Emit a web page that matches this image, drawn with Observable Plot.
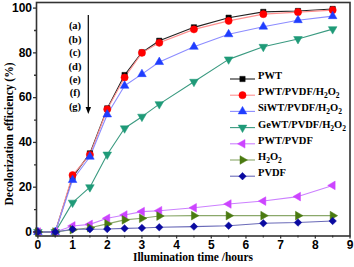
<!DOCTYPE html>
<html><head><meta charset="utf-8">
<script src="https://cdn.jsdelivr.net/npm/d3@7"></script>
<script src="https://cdn.jsdelivr.net/npm/@observablehq/plot@0.6"></script>
<style>body{margin:0;background:#fff}</style>
</head><body><div id="chart"></div>
<script>
// ---- data ----
const hours = [0, 0.5, 1, 1.5, 2, 2.5, 3, 3.5, 4.5, 5.5, 6.5, 7.5, 8.5];
const seriesNames = ["PWT", "PWT/PVDF/H2O2", "SiWT/PVDF/H2O2", "GeWT/PVDF/H2O2", "PWT/PVDF", "H2O2", "PVDF"];
const pwt        = [0, 0, 24.5, 35.1, 55.2, 70.1, 80.2, 85.4, 91.4, 95.7, 98.3, 98.7, 99.6];
const pwtPvdfH2o2 = [0, 0, 25.4, 34.5, 54.8, 69.0, 80.0, 84.5, 90.5, 94.3, 97.3, 98.2, 99.1];
const siwtPvdfH2o2 = [0, 0, 23.2, 33.6, 52.5, 65.3, 70.5, 75.9, 82.7, 88.3, 91.7, 94.6, 96.4];
const gewtPvdfH2o2 = [0, 0, 13.1, 20.0, 34.6, 46.3, 51.5, 57.1, 67.1, 77.1, 82.7, 86.2, 90.6];
const pwtPvdf    = [0, 0, 2.7, 3.4, 6.1, 7.6, 9.1, 9.5, 10.8, 12.5, 13.8, 15.8, 20.8];
const h2o2       = [0, 0, 1.0, 1.9, 3.6, 5.4, 6.1, 7.1, 7.3, 7.3, 7.3, 7.3, 7.3];
const pvdf       = [0, 0, 1.2, 1.2, 1.3, 1.6, 1.8, 2.1, 2.4, 2.8, 3.9, 4.2, 4.9];
const seriesValues = [pwt, pwtPvdfH2o2, siwtPvdfH2o2, gewtPvdfH2o2, pwtPvdf, h2o2, pvdf];
const annotationLabels = ["(a)", "(b)", "(c)", "(d)", "(e)", "(f)", "(g)"];
const yTicks = [0, 20, 40, 60, 80, 100];
const yMinorTicks = [10, 30, 50, 70, 90];
const xTicks = [0, 1, 2, 3, 4, 5, 6, 7, 8, 9];
const xMinorTicks = [0.5, 1.5, 2.5, 3.5, 4.5, 5.5, 6.5, 7.5, 8.5];
const xTitle = "Illumination time /hours";
const yTitle = "Decolorization efficiency (%)";

// ---- styles ----
const lineColors   = ["#222222", "#ff8f8f", "#8c8cff", "#3a9a80", "#cc80ff", "#8aa86a", "#6a6ab8"];
const markerColors = ["#000000", "#ff0000", "#1f3dff", "#1f9a78", "#cc44ff", "#4a7a10", "#0a0aa0"];

function triangle(angleDeg) {
  const t = angleDeg * Math.PI / 180;
  return {
    draw(ctx, size) {
      const s = Math.sqrt(size * 4 / Math.sqrt(3));
      const h = s * Math.sqrt(3) / 2;
      const pts = [[0, -2 * h / 3], [s / 2, h / 3], [-s / 2, h / 3]].map(([x, y]) =>
        [x * Math.cos(t) - y * Math.sin(t), x * Math.sin(t) + y * Math.cos(t)]);
      ctx.moveTo(pts[0][0], pts[0][1]);
      ctx.lineTo(pts[1][0], pts[1][1]);
      ctx.lineTo(pts[2][0], pts[2][1]);
      ctx.closePath();
    }
  };
}
const diamond = {
  draw(ctx, size) {
    const d = Math.sqrt(size / 2);
    ctx.moveTo(0, -d); ctx.lineTo(d, 0); ctx.lineTo(0, d); ctx.lineTo(-d, 0); ctx.closePath();
  }
};
const square = {
  draw(ctx, size) { const s = Math.sqrt(size) / 2; ctx.rect(-s, -s, 2 * s, 2 * s); }
};
const circle = {
  draw(ctx, size) { const r = Math.sqrt(size / Math.PI); ctx.moveTo(r, 0); ctx.arc(0, 0, r, 0, 2 * Math.PI); }
};
const symbols = [square, circle, triangle(0), triangle(180), triangle(-90), triangle(90), diamond];
const symbolR = [3.0, 3.6, 3.2, 3.2, 3.2, 3.2, 3.0];

const rows = [];
seriesValues.forEach((vals, i) => vals.forEach((v, j) => rows.push({series: i, x: hours[j], y: v})));

const tickFont = {fontFamily: "Liberation Sans, Arial, sans-serif", fontWeight: "bold", fontSize: 12};
const frameColor = "#333";

const marks = [];
seriesValues.forEach((vals, i) => {
  const d = rows.filter(r => r.series === i);
  marks.push(Plot.line(d, {x: "x", y: "y", stroke: lineColors[i], strokeWidth: 1.1}));
});
seriesValues.forEach((vals, i) => {
  const d = rows.filter(r => r.series === i);
  marks.push(Plot.dot(d, {x: "x", y: "y", symbol: () => symbols[i], r: symbolR[i], fill: markerColors[i], stroke: markerColors[i], strokeWidth: 0.5}));
});
marks.push(
  Plot.axisY(yTicks, {tickSize: 3, tickPadding: 1.5, label: null, stroke: frameColor, strokeWidth: 1.3, ...tickFont, fill: "#000"}),
  Plot.axisY(yMinorTicks, {tickSize: 2, text: null, label: null, stroke: frameColor, strokeWidth: 1.3}),
  Plot.axisX(xTicks, {tickSize: 3, tickPadding: 1.5, label: null, stroke: frameColor, strokeWidth: 1.3, ...tickFont, fill: "#000"}),
  Plot.axisX(xMinorTicks, {tickSize: 2, text: null, label: null, stroke: frameColor, strokeWidth: 1.3}),
  Plot.frame({stroke: frameColor, strokeWidth: 1.6})
);

const chart = Plot.plot({
  width: 354, height: 267,
  marginLeft: 36, marginRight: 4.5, marginTop: 2, marginBottom: 31.5,
  x: {domain: [-0.04, 9]},
  y: {domain: [-1.8, 102.5]},
  style: {background: "#fff", overflow: "visible"},
  marks
});
document.getElementById("chart").appendChild(chart);

// ---- overlays: titles, legend, annotations ----
const svg = d3.select(chart);
const serif = "Liberation Serif, Times New Roman, serif";

svg.append("text").attr("x", 193).attr("y", 261).attr("text-anchor", "middle")
  .attr("font-family", serif).attr("font-weight", "bold").attr("font-size", 11.5).attr("fill", "#000").text(xTitle);
svg.append("text").attr("transform", "translate(13,134) rotate(-90)").attr("text-anchor", "middle")
  .attr("font-family", serif).attr("font-weight", "bold").attr("font-size", 11.5).attr("fill", "#000").text(yTitle);

function addLabelText(g, name, x, y) {
  const t = g.append("text").attr("x", x).attr("y", y).attr("dy", "0.35em").attr("text-anchor", "start")
    .attr("font-family", serif).attr("font-weight", "bold").attr("font-size", 10.5).attr("fill", "#000");
  const parts = name.split(/(\d)/).filter(p => p !== "");
  let sub = false;
  parts.forEach(p => {
    if (/^\d$/.test(p)) {
      t.append("tspan").attr("font-size", 7.5).attr("dy", sub ? 0 : 3).text(p);
      sub = true;
    } else {
      t.append("tspan").attr("dy", sub ? -3 : 0).text(p);
      sub = false;
    }
  });
}
const legend = svg.append("g");
seriesNames.forEach((name, i) => {
  const y = 79 + i * 16.2;
  legend.append("line").attr("x1", 230).attr("x2", 255).attr("y1", y).attr("y2", y)
    .attr("stroke", lineColors[i]).attr("stroke-width", 1.1);
  legend.append("path").attr("transform", `translate(242.5,${y})`)
    .attr("d", d3.symbol(symbols[i], Math.PI * symbolR[i] * symbolR[i])())
    .attr("fill", markerColors[i]).attr("stroke", markerColors[i]).attr("stroke-width", 0.5);
  addLabelText(legend, name, 258, y);
});

const ann = svg.append("g");
annotationLabels.forEach((lab, i) => {
  ann.append("text").attr("x", 75).attr("y", 25.7 + i * 13.4).attr("dy", "0.35em").attr("text-anchor", "middle")
    .attr("font-family", serif).attr("font-weight", "bold").attr("font-size", 10.5).attr("fill", "#000").text(lab);
});
ann.append("line").attr("x1", 88.3).attr("x2", 88.3).attr("y1", 15).attr("y2", 109)
  .attr("stroke", "#000").attr("stroke-width", 1.2);
ann.append("path").attr("d", "M85.6,107 L91,107 L88.3,114 Z").attr("fill", "#000");
</script>
</body></html>
